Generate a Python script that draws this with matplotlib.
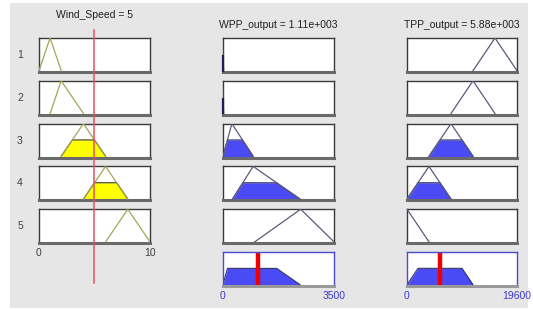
#!/usr/bin/env python
# fuzzy rule viewer: Wind_Speed -> WPP_output, TPP_output
import numpy as np
import matplotlib
matplotlib.use("Agg")
import matplotlib.pyplot as plt
from matplotlib.lines import Line2D
from matplotlib.patches import Rectangle

plt.rcParams['font.family'] = ['Liberation Sans', 'DejaVu Sans']

W, H = 533, 310

# input variable
wind_range = [0, 10]
wind_value = 5
wind_mfs = [[0, 1, 2], [1, 2, 4], [2, 4, 6], [4, 6, 8], [6, 8, 10]]

# outputs
wpp_range = [0, 3500]
wpp_value = 1110
wpp_mfs = [[-50, -25, 20], [-50, -25, 20], [0, 280, 950], [300, 950, 2430], [1000, 2450, 3500]]

tpp_range = [0, 19600]
tpp_value = 5880
tpp_mfs = [[11760, 15680, 19600], [7840, 11760, 15680], [3920, 7840, 11760],
           [0, 3920, 7840], [-3920, 0, 3920]]

rule_labels = ['1', '2', '3', '4', '5']
titles = ['Wind_Speed = 5', 'WPP_output = 1.11e+003', 'TPP_output = 5.88e+003']


def trimf(x, p):
    a, b, c = p
    x = np.asarray(x, dtype=float)
    left = (x - a) / (b - a) if b != a else (x >= b).astype(float)
    right = (c - x) / (c - b) if c != b else (x <= b).astype(float)
    return np.clip(np.minimum(left, right), 0, 1)


weights = [float(trimf(wind_value, m)) for m in wind_mfs]

fig = plt.figure(figsize=(W / 100, H / 100), dpi=100)
fig.patch.set_facecolor('white')
fig.patches.append(Rectangle((10 / W, 1 - 308 / H), 518 / W, 305 / H,
                             transform=fig.transFigure, facecolor='#e6e6e6',
                             edgecolor='none', zorder=-10))

cols = [(39, 150), (223, 334), (407, 517)]
row_tops = [38, 80.8, 123.6, 166.4, 209.2, 252]
box_h = 34


def add_box(col, top):
    x0, x1 = cols[col]
    ax = fig.add_axes([x0 / W, 1 - (top + box_h) / H, (x1 - x0) / W, box_h / H])
    ax.set_xticks([])
    ax.set_yticks([])
    ax.set_ylim(-0.04, 1.0)
    for s in ax.spines.values():
        s.set_color('#3a3a3a')
        s.set_linewidth(1.0)
    ax.spines['bottom'].set_linewidth(2.2)
    ax.spines['bottom'].set_color('#6a6a6a')
    return ax


def draw_rule(ax, rng, mf, w, line_c, fill_c, fill_edge):
    x = np.linspace(rng[0], rng[1], 400)
    if w > 0:
        y = np.minimum(trimf(x, mf), w)
        ax.fill_between(x, -0.04, y, where=y > 0, color=fill_c, lw=0)
        ax.plot(x[y > 0], y[y > 0], color=fill_edge, lw=0.8)
    ax.plot(mf, [0, 1, 0], color=line_c, lw=0.9, zorder=3)
    ax.set_xlim(rng)


specs = [
    (wind_range, wind_mfs, '#a5a555', '#ffff00', '#3a3a10'),
    (wpp_range, wpp_mfs, '#5a5a7a', '#4b4bf5', '#30306a'),
    (tpp_range, tpp_mfs, '#5a5a7a', '#4b4bf5', '#30306a'),
]

for c, (rng, mfs, lc, fc, fe) in enumerate(specs):
    for r in range(5):
        ax = add_box(c, row_tops[r])
        draw_rule(ax, rng, mfs[r], weights[r], lc, fc, fe)
        if mfs[r][1] < rng[0]:
            # spike at the left edge of the range
            ax.plot([rng[0], rng[0]], [0, trimf(rng[0], mfs[r])],
                    color='#202050', lw=1.6, zorder=3, clip_on=False)

# aggregated outputs
for c, (rng, mfs, val) in enumerate([(wpp_range, wpp_mfs, wpp_value),
                                     (tpp_range, tpp_mfs, tpp_value)], start=1):
    ax = add_box(c, row_tops[5])
    for s in ['top', 'left', 'right']:
        ax.spines[s].set_color('#4a4ad0')
    ax.spines['bottom'].set_color('#9a9a9a')
    x = np.linspace(rng[0], rng[1], 400)
    agg = np.max([np.minimum(trimf(x, m), w) for m, w in zip(mfs, weights)], axis=0)
    ax.fill_between(x, -0.04, agg, where=agg > 0, color='#4b4bf5', lw=0)
    ax.plot(x[agg > 0], agg[agg > 0], color='#30306a', lw=0.8)
    ax.axvline(val, color='#ee0000', lw=3.2)
    ax.set_xlim(rng)
    x0, x1 = cols[c]
    fig.text(x0 / W, 1 - 296 / H, str(rng[0]), ha='center', va='center',
             color='#3a3acc', fontsize=7.5)
    fig.text(x1 / W, 1 - 296 / H, str(rng[1]), ha='center', va='center',
             color='#3a3acc', fontsize=7.5)

# input range labels
fig.text(cols[0][0] / W, 1 - 253 / H, str(wind_range[0]), ha='center', va='center',
         color='#404040', fontsize=7.5)
fig.text(cols[0][1] / W, 1 - 253 / H, str(wind_range[1]), ha='center', va='center',
         color='#404040', fontsize=7.5)

# input value line
xv = cols[0][0] + (wind_value - wind_range[0]) / (wind_range[1] - wind_range[0]) * (cols[0][1] - cols[0][0])
xv -= 1
fig.lines.append(Line2D([xv / W, xv / W], [1 - 30 / H, 1 - 283 / H],
                        transform=fig.transFigure, color='#e85060', lw=1.1, zorder=20))

# row labels
for r in range(5):
    fig.text(20 / W, 1 - (row_tops[r] + box_h / 2) / H, rule_labels[r],
             ha='center', va='center', color='#404040', fontsize=7.5)

# titles
fig.text((cols[0][0] + cols[0][1]) / 2 / W, 1 - 15 / H, titles[0], ha='center',
         va='center', color='#202020', fontsize=7.5)
fig.text((cols[1][0] + cols[1][1]) / 2 / W, 1 - 25 / H, titles[1], ha='center',
         va='center', color='#202020', fontsize=7.5)
fig.text((cols[2][0] + cols[2][1]) / 2 / W, 1 - 25 / H, titles[2], ha='center',
         va='center', color='#202020', fontsize=7.5)

fig.savefig('out.png', dpi=100)
